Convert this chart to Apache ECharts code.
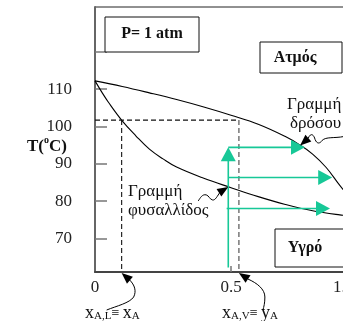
<!DOCTYPE html>
<html><head><meta charset="utf-8">
<script src="https://cdn.jsdelivr.net/npm/echarts@6/dist/echarts.min.js"></script>
<style>html,body{margin:0;padding:0;background:#fff}#c{width:343px;height:321px}</style>
</head><body><div id="c"></div>
<script>
// Dew-point (vapour) curve: mole fraction of A vs temperature
const dewX = [0, 0.1, 0.2, 0.3, 0.4, 0.5, 0.6, 0.7, 0.75, 0.8, 0.85, 0.9, 0.95, 1.0];
const dewT = [112.2, 110.7, 109.0, 107.2, 105.2, 103.0, 100.6, 97.3, 95.2, 92.6, 89.0, 84.2, 79.8, 75.5];
// Bubble-point (liquid) curve
const bubbleX = [0, 0.025, 0.05, 0.1, 0.15, 0.2, 0.25, 0.3, 0.4, 0.5, 0.6, 0.7, 0.8, 0.9, 1.0];
const bubbleT = [112.2, 109.2, 106.4, 101.5, 97.5, 93.9, 91.3, 89.1, 86.1, 83.6, 81.2, 79.1, 77.4, 76.3, 75.5];

// Tie line at the boiling temperature
const tieT = 101.7;
const xLiquid = 0.098;
const yVapour = 0.529;

// Heating path and the horizontal arrows
const heatX = 0.49;
const heatFromT = 62.2;
const heatToT = 94.4;
const flowT = [94.4, 86.3, 78.0];
const flowFromX = [0.49, 0.49, 0.484];
const flowToX = [0.772, 0.872, 0.864];

// Axis ticks and labels
const xLabelValues = [0, 0.5, 1];
const xLabelText = ['0', '0.5', '1.0'];
const xTickValues = [0.5];
const yLabelValues = [70, 80, 90, 100, 110];
const yTickValues = [70, 80, 90, 100, 110, 120];
const yMin = 61, yMax = 132;

// Points the callout arrows aim at
const dewNoteX = 0.754, dewNoteT = 94.9;
const bubNoteX = 0.49, bubNoteT = 83.8;

const SERIF = '"Liberation Serif", "DejaVu Serif", serif';
const GREEN = '#17c897';

const zip = (a, b) => a.map((v, i) => [v, b[i]]);

const chart = echarts.init(document.getElementById('c'), null, {renderer: 'canvas'});

// Each row: [x0, T0, x1, T1], arrowhead at the second point
const arrowRows = [[heatX, heatFromT, heatX, heatToT]]
  .concat(flowT.map((t, i) => [flowFromX[i], t, flowToX[i], t]));

function renderArrow(params, api) {
  const a = api.coord([api.value(0), api.value(1)]);
  const b = api.coord([api.value(2), api.value(3)]);
  const dx = b[0] - a[0], dy = b[1] - a[1];
  const L = Math.hypot(dx, dy);
  const u = [dx / L, dy / L], n = [-u[1], u[0]];
  const hl = 14, hw = 7.5;
  const base = [b[0] - u[0] * hl, b[1] - u[1] * hl];
  return {
    type: 'group',
    children: [
      {type: 'line', shape: {x1: a[0], y1: a[1], x2: base[0] + u[0], y2: base[1] + u[1]},
       style: {stroke: GREEN, lineWidth: 1.6}},
      {type: 'polygon', shape: {points: [b, [base[0] + n[0] * hw, base[1] + n[1] * hw], [base[0] - n[0] * hw, base[1] - n[1] * hw]]},
       style: {fill: GREEN}}
    ]
  };
}

chart.setOption({
  animation: false,
  backgroundColor: '#fff',
  grid: {left: 95, top: 7, width: 272, height: 265, outerBoundsMode: 'none', containLabel: false,
         show: true, borderColor: '#222', borderWidth: 1, backgroundColor: 'transparent'},
  xAxis: {
    type: 'value', min: 0, max: 1,
    axisLine: {lineStyle: {color: '#444', width: 2}},
    axisTick: {show: true, inside: true, length: 6, customValues: xTickValues, lineStyle: {color: '#777', width: 1.5}},
    axisLabel: {
      customValues: xLabelValues, margin: 7,
      fontFamily: SERIF, fontSize: 17, color: '#222',
      formatter: v => {
        const i = xLabelValues.indexOf(v);
        const t = i >= 0 ? xLabelText[i] : String(v);
        return v === 1 ? '{r|' + t + '}' : t;
      },
      rich: {r: {width: 68, align: 'left', fontFamily: SERIF, fontSize: 17, color: '#222'}}
    },
    splitLine: {show: false}
  },
  yAxis: {
    type: 'value', min: yMin, max: yMax,
    axisLine: {show: true, lineStyle: {color: '#666', width: 2}},
    axisTick: {show: true, inside: true, length: 12, customValues: yTickValues, lineStyle: {color: '#777', width: 1.5}},
    axisLabel: {customValues: yLabelValues, margin: 23, fontFamily: SERIF, fontSize: 17, color: '#222'},
    splitLine: {show: false}
  },
  series: [
    {type: 'line', data: zip(dewX, dewT), showSymbol: false, smooth: 0.4,
     lineStyle: {color: '#000', width: 1.1}, z: 3},
    {type: 'line', data: zip(bubbleX, bubbleT), showSymbol: false, smooth: 0.4,
     lineStyle: {color: '#000', width: 1.1}, z: 3},
    {type: 'line', data: [[0, tieT], [yVapour, tieT]], showSymbol: false,
     lineStyle: {color: '#111', width: 1.1, type: [5, 3]}},
    {type: 'line', data: [[xLiquid, tieT], [xLiquid, yMin]], showSymbol: false,
     lineStyle: {color: '#111', width: 1.1, type: [5, 3]}},
    {type: 'line', data: [[yVapour, tieT], [yVapour, yMin]], showSymbol: false,
     lineStyle: {color: '#777', width: 1.5, type: [5, 3]}},
    {type: 'custom', data: arrowRows, renderItem: renderArrow, clip: false,
     encode: {x: [0, 2], y: [1, 3]}, z: 4}
  ]
});

const P = (x, y) => chart.convertToPixel({gridIndex: 0}, [x, y]);

// Curly callout arrow: head at tip, wavy tail as cubic segments relative to tip
function callout(tip, dir, start, segs) {
  const L = Math.hypot(dir[0], dir[1]);
  const u = [dir[0] / L, dir[1] / L];
  const n = [-u[1], u[0]];
  const len = 11, hw = 4.5;
  const b = [tip[0] + u[0] * len, tip[1] + u[1] * len];
  const out = [];
  let p = start;
  segs.forEach(s => {
    out.push({type: 'bezierCurve', x: tip[0], y: tip[1], z: 10,
      shape: {x1: p[0], y1: p[1], cpx1: s[0], cpy1: s[1], cpx2: s[2], cpy2: s[3], x2: s[4], y2: s[5]},
      style: {stroke: '#000', fill: null, lineWidth: 1}});
    p = [s[4], s[5]];
  });
  out.push({type: 'polygon', z: 10,
    shape: {points: [tip, [b[0] + n[0] * hw, b[1] + n[1] * hw], [b[0] - n[0] * hw, b[1] - n[1] * hw]]},
    style: {fill: '#000'}});
  return out;
}

const box = (x, y, w, h) => ({type: 'rect', shape: {x, y, width: w, height: h},
  style: {fill: '#fff', stroke: '#111', lineWidth: 1}, z: 8});
const txt = (text, x, y, opts) => Object.assign({type: 'text', x, y, z: 9,
  style: Object.assign({text, fontFamily: SERIF, fontSize: 17, fill: '#111', align: 'left', verticalAlign: 'middle'}, opts || {})});

const subRich = {
  x: {fontFamily: SERIF, fontSize: 18, fill: '#111', lineHeight: 22, verticalAlign: 'bottom'},
  s: {fontFamily: SERIF, fontSize: 11, fill: '#111', lineHeight: 12, verticalAlign: 'bottom'},
  e: {fontFamily: SERIF, fontSize: 14, fill: '#111', lineHeight: 16, padding: [6, 0, 0, 0], verticalAlign: 'top'}
};

const dewTip = P(dewNoteX, dewNoteT);
const bubTip = P(bubNoteX, bubNoteT);
const lTip = P(xLiquid, yMin); lTip[1] += 1;
const rTip = P(yVapour, yMin); rTip[1] += 1;

chart.setOption({
  graphic: [].concat(
    [box(105, 17, 94, 35), txt('P= 1 atm', 152, 34, {fontWeight: 'bold', fontSize: 16, align: 'center'})],
    [box(260, 42, 82, 31), txt('Ατμός', 295, 58, {fontWeight: 'bold', fontSize: 16, align: 'center'})],
    [box(275, 229, 90, 38), txt('Υγρό', 305, 248, {fontWeight: 'bold', fontSize: 16, align: 'center'})],
    [txt('Γραμμή', 287, 105), txt('δρόσου', 290, 124)],
    [txt('Γραμμή', 128, 192), txt('φυσαλλίδος', 128, 211)],
    [{type: 'text', x: 47, y: 145, z: 9, style: {
      text: '{b|T(}{o|o}{b|C)}', align: 'center', verticalAlign: 'middle',
      rich: {b: {fontFamily: SERIF, fontWeight: 'bold', fontSize: 17, fill: '#111', lineHeight: 20, verticalAlign: 'bottom'},
             o: {fontFamily: SERIF, fontWeight: 'bold', fontSize: 10, fill: '#111', lineHeight: 20, verticalAlign: 'top'}}}}],
    [{type: 'text', x: 85, y: 311, z: 9, style: {text: '{x|x}{s|A,L}{e|≡ }{x|x}{s|A}', rich: subRich, align: 'left', verticalAlign: 'middle'}}],
    [{type: 'text', x: 222, y: 311, z: 9, style: {text: '{x|x}{s|A,V}{e|≡ }{x|y}{s|A}', rich: subRich, align: 'left', verticalAlign: 'middle'}}],
    callout(dewTip, [8, -7], [8, -7], [[11, -14, 14, -10, 15, -6], [17, -1, 20, -2, 22, -5], [26, -9, 34, -7, 44, -9]]),
    callout(bubTip, [-8, 5], [-8, 5], [[-11, 9, -13, 14, -16, 13], [-19, 12, -19, 9, -22, 8], [-26, 7, -28, 11, -30, 14]]),
    callout(lTip, [8, 7], [8, 7], [[13, 12, 15, 18, 12, 24], [8, 30, -5, 33, -15, 37]]),
    callout(rTip, [9, 6], [9, 6], [[18, 10, 26, 16, 26, 24], [26, 30, 25, 34, 24, 37]])
  )
});
</script>
</body></html>
